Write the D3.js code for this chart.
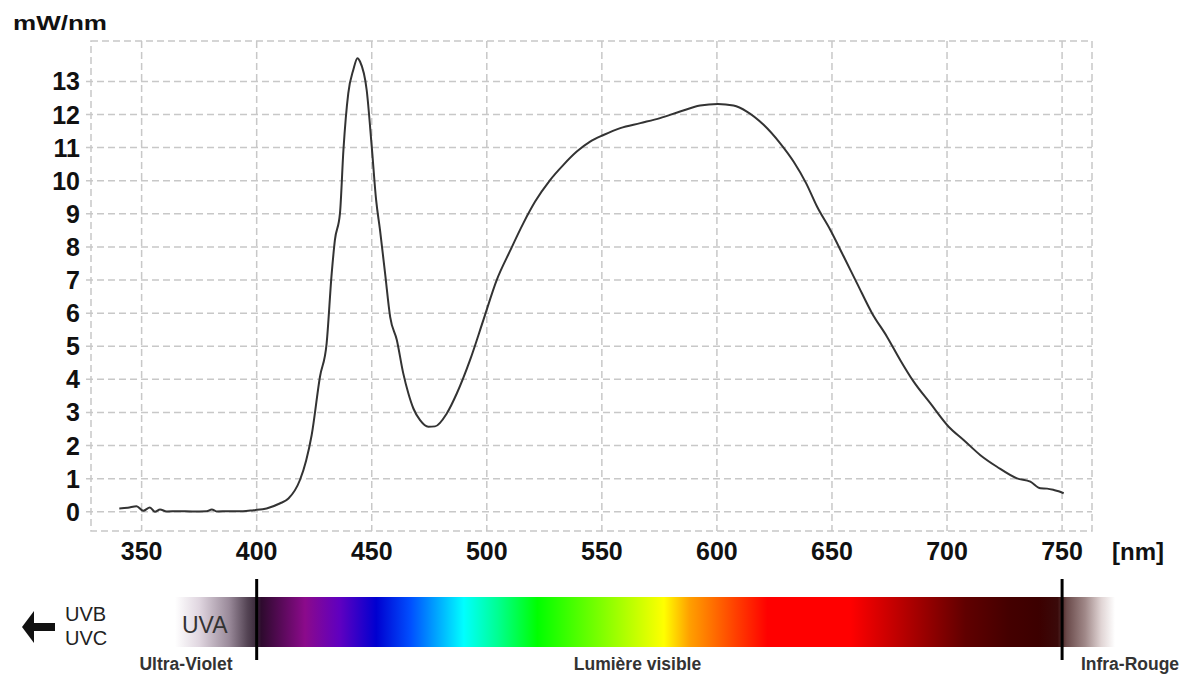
<!DOCTYPE html>
<html>
<head>
<meta charset="utf-8">
<script src="https://cdn.jsdelivr.net/npm/d3@7"></script>
<style>
  html, body { margin: 0; padding: 0; background: #fff; }
  svg { display: block; }
</style>
</head>
<body>
<svg id="chart" width="1183" height="675"></svg>
<script>
// ---- data ----
const wavelengths = [340.3, 344, 347.8, 350.7, 353.6, 355.8, 358, 360.9, 366, 372, 378.3, 380.5, 382.6, 388, 394, 398.6,
  404.3, 410, 413.8, 418.8, 421.5, 423.9, 427.5, 430.4, 432.6, 434, 436.2, 437.7, 439.8, 442, 443.8, 444.9, 447.8,
  450, 451.9, 453.6, 455.8, 458, 460.9, 463.7, 465.9, 468.1, 471, 474.6, 477.5, 482.6, 487, 492.7, 498.5, 504.3,
  510.1, 515.9, 521, 527.5, 533.3, 539.1, 544.9, 550.7, 558, 566.7, 575.3, 584, 592.7, 600.4, 607.2, 613, 620.3,
  627.5, 633.3, 638.8, 643.5, 649.3, 655.1, 660.9, 667.4, 673.9, 679.7, 685.5, 692.7, 700.7, 707.2, 714.5, 721.7,
  730.4, 736.2, 740.6, 743.5, 746.4, 748.5, 750.7];
const power = [0.10, 0.12, 0.17, 0.03, 0.13, 0.00, 0.07, 0.01, 0.02, 0.01, 0.02, 0.07, 0.01, 0.02, 0.02, 0.05,
  0.10, 0.25, 0.40, 0.96, 1.55, 2.32, 4.08, 5.09, 7.20, 8.21, 9.02, 10.93, 12.64, 13.35, 13.70, 13.60, 12.74,
  11.03, 9.42, 8.51, 7.20, 5.89, 5.19, 4.18, 3.58, 3.12, 2.77, 2.57, 2.58, 2.97, 3.58, 4.58, 5.79, 7.00,
  7.88, 8.72, 9.37, 10.02, 10.48, 10.88, 11.18, 11.38, 11.59, 11.74, 11.89, 12.09, 12.27, 12.32, 12.27, 12.09, 11.69,
  11.13, 10.58, 9.92, 9.22, 8.51, 7.71, 6.90, 6.00, 5.29, 4.58, 3.93, 3.28, 2.57, 2.17, 1.71, 1.36,
  1.01, 0.91, 0.71, 0.70, 0.66, 0.62, 0.56];

const xTicks = [350, 400, 450, 500, 550, 600, 650, 700, 750];
const yTicks = [0, 1, 2, 3, 4, 5, 6, 7, 8, 9, 10, 11, 12, 13];
const yUnit = "mW/nm";
const xUnit = "[nm]";

// spectrum colour stops by wavelength (nm)
const spectrumNm = [364.5, 375, 388, 396, 400, 402, 411, 421, 436, 452, 467, 490, 505, 522, 550, 577, 588, 608, 622,
  658, 678, 708, 727, 740, 748, 752, 760, 767, 773];
const spectrumColors = ['#ffffff', '#e0d6e0', '#9a8a9a', '#544454', '#3a283a', '#2e0a2e', '#5a0a5a', '#8b0a8b',
  '#6000c0', '#0000d0', '#0050ff', '#00ffff', '#00ff90', '#00ff00', '#80ff00', '#ffff00', '#ffa000', '#ff4000',
  '#ff0000', '#ff0000', '#c00000', '#600000', '#440000', '#3c0000', '#3a0a0a', '#6a4a4a', '#a08888', '#e0d4d4', '#ffffff'];
const visibleBounds = [400, 750];
const bandLabels = ["Ultra-Violet", "Lumière visible", "Infra-Rouge"];

// ---- layout ----
const svg = d3.select("#chart");
const x = d3.scaleLinear().domain([328, 763]).range([91, 1092]);
const y = d3.scaleLinear().domain([-0.58, 14.22]).range([531, 41]);
const numFont = "'Liberation Sans', Arial, sans-serif";
const gridColor = "#c8c8c8";
const dash = "7,4";

// gridlines
svg.append("g").selectAll("line").data(yTicks).join("line")
  .attr("x1", 86).attr("x2", x.range()[1])
  .attr("y1", d => y(d)).attr("y2", d => y(d))
  .attr("stroke", gridColor).attr("stroke-width", 1.5).attr("stroke-dasharray", dash);
svg.append("g").selectAll("line").data(xTicks).join("line")
  .attr("x1", d => x(d)).attr("x2", d => x(d))
  .attr("y1", y.range()[1]).attr("y2", y.range()[0])
  .attr("stroke", gridColor).attr("stroke-width", 1.5).attr("stroke-dasharray", dash);
// frame
svg.append("rect")
  .attr("x", x.range()[0]).attr("y", y.range()[1])
  .attr("width", x.range()[1] - x.range()[0]).attr("height", y.range()[0] - y.range()[1])
  .attr("fill", "none").attr("stroke", gridColor).attr("stroke-width", 1.5).attr("stroke-dasharray", dash);

// y tick labels
svg.append("g").selectAll("text").data(yTicks).join("text")
  .attr("x", 80).attr("y", d => y(d) + 9)
  .attr("text-anchor", "end")
  .attr("font-family", numFont).attr("font-weight", "bold").attr("font-size", 25)
  .attr("fill", "#111").text(d => d);
// x tick labels
svg.append("g").selectAll("text").data(xTicks).join("text")
  .attr("x", d => x(d)).attr("y", 560)
  .attr("text-anchor", "middle")
  .attr("font-family", numFont).attr("font-weight", "bold").attr("font-size", 25)
  .attr("fill", "#111").text(d => d);
svg.append("text").attr("x", 1112).attr("y", 560)
  .attr("font-family", numFont).attr("font-weight", "bold").attr("font-size", 24)
  .attr("fill", "#111").text(xUnit);
svg.append("text").attr("x", 13).attr("y", 30)
  .attr("font-family", numFont).attr("font-weight", "bold").attr("font-size", 21)
  .attr("textLength", 94).attr("lengthAdjust", "spacingAndGlyphs")
  .attr("fill", "#111").text(yUnit);

// curve
const pts = wavelengths.map((w, i) => [w, power[i]]);
svg.append("path").datum(pts)
  .attr("fill", "none").attr("stroke", "#333").attr("stroke-width", 2)
  .attr("stroke-linejoin", "round")
  .attr("d", d3.line().x(d => x(d[0])).y(d => y(d[1])).curve(d3.curveMonotoneX));

// spectrum bar
const defs = svg.append("defs");
const x0 = x(spectrumNm[0]), x1 = x(spectrumNm[spectrumNm.length - 1]);
const grad = defs.append("linearGradient").attr("id", "spec")
  .attr("gradientUnits", "userSpaceOnUse")
  .attr("x1", x0).attr("x2", x1).attr("y1", 0).attr("y2", 0);
grad.selectAll("stop").data(spectrumNm).join("stop")
  .attr("offset", d => (x(d) - x0) / (x1 - x0))
  .attr("stop-color", (d, i) => spectrumColors[i]);
svg.append("rect").attr("x", x0).attr("y", 597).attr("width", x1 - x0).attr("height", 50)
  .attr("fill", "url(#spec)");

svg.append("g").selectAll("line").data(visibleBounds).join("line")
  .attr("x1", d => x(d)).attr("x2", d => x(d)).attr("y1", 579).attr("y2", 660)
  .attr("stroke", "#000").attr("stroke-width", 3);

// labels under bar
svg.append("text").attr("x", 182).attr("y", 633)
  .attr("font-family", numFont).attr("font-size", 23).attr("fill", "#333").text("UVA");
svg.append("text").attr("x", 65).attr("y", 621)
  .attr("font-family", numFont).attr("font-size", 20).attr("fill", "#222").text("UVB");
svg.append("text").attr("x", 65).attr("y", 645)
  .attr("font-family", numFont).attr("font-size", 20).attr("fill", "#222").text("UVC");
svg.append("path")
  .attr("d", "M22,627 L34,611 L34,623 L55,623 L55,631 L34,631 L34,643 Z")
  .attr("fill", "#111");

const bandX = [186, 637.5, 1130];
svg.append("g").selectAll("text").data(bandLabels).join("text")
  .attr("x", (d, i) => bandX[i]).attr("y", 670)
  .attr("text-anchor", "middle")
  .attr("font-family", numFont).attr("font-weight", "bold").attr("font-size", 17.5)
  .attr("fill", "#333").text(d => d);
</script>
</body>
</html>
